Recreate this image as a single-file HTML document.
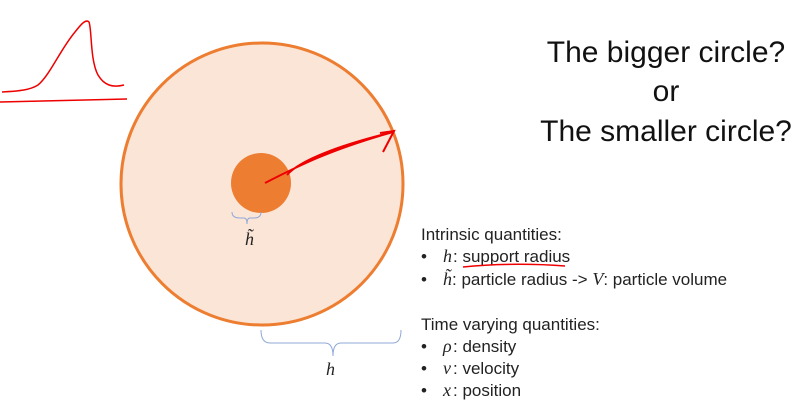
<!DOCTYPE html>
<html><head><meta charset="utf-8"><style>
body{margin:0;background:#fff;}
svg{display:block;font-family:"Liberation Sans",sans-serif;}
.t{font-size:17px;fill:#222;}
.m{font-family:"Liberation Serif",serif;font-style:italic;font-size:18px;fill:#222;}
.big{font-size:30px;fill:#111;}
</style></head><body>
<svg width="812" height="415" viewBox="0 0 812 415">
<g fill="none" stroke="#e00" stroke-width="1.5">
<path d="M2 92 C20 91 30 90 38 85 C50 75 60 50 75 32 C82 23 86 19 89 22 C92 30 90 60 98 75 C104 85 112 88 124 85"/>
<path d="M0 102 L127 99"/>
</g>
<circle cx="262" cy="184" r="141" fill="#fbe5d6" stroke="#ed7d31" stroke-width="3"/>
<circle cx="261" cy="183" r="30" fill="#ed7d31"/>
<g fill="none" stroke="#e00" stroke-width="2">
<path d="M265 183 C300 165 330 150 393 132 M393 132 C340 145 300 160 287 175"/>
<path d="M380 133 L394 131 L383 152"/>
</g>
<path d="M232 212 Q232 218 240 218 L244 218 Q247 218 247 224 Q247 218 250 218 L254 218 Q261 218 261 212" fill="none" stroke="#8fa8d8" stroke-width="1"/>
<text class="m" x="245" y="245">h̃</text>
<path d="M261 330 Q261 343 270 343 L325 343 Q333 343 333 356 Q333 343 341 343 L393 343 Q401 343 401 330" fill="none" stroke="#8fa8d8" stroke-width="1"/>
<text class="m" x="326" y="375">h</text>
<g text-anchor="middle">
<text class="big" x="666" y="62">The bigger circle?</text>
<text class="big" x="666" y="101">or</text>
<text class="big" x="666" y="141">The smaller circle?</text>
</g>
<g>
<text class="t" x="421" y="240">Intrinsic quantities:</text>
<text class="t" x="421" y="262">•</text><text class="m" x="443" y="262">h</text><text class="t" x="453" y="262">: support radius</text>
<path d="M463 267 C500 263 540 264 565 266" stroke="#e00" stroke-width="1.5" fill="none"/>
<text class="t" x="421" y="285">•</text>
<text class="t" x="443" y="285"><tspan class="m">h̃</tspan>: particle radius -&gt; <tspan class="m">V</tspan>: particle volume</text>
</g>
<g>
<text class="t" x="421" y="330">Time varying quantities:</text>
<text class="t" x="421" y="352">•</text><text class="m" x="443" y="352">ρ</text><text class="t" x="453" y="352">: density</text>
<text class="t" x="421" y="374">•</text><text class="m" x="443" y="374">v</text><text class="t" x="453" y="374">: velocity</text>
<text class="t" x="421" y="396">•</text><text class="m" x="443" y="396">x</text><text class="t" x="453" y="396">: position</text>
</g>
</svg>
</body></html>
